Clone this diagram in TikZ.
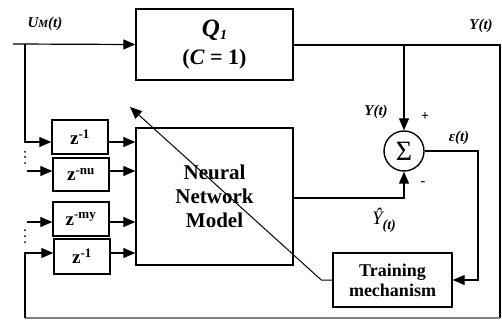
\documentclass[tikz,border=0pt]{standalone}
\usepackage{fontspec}
\setmainfont{Liberation Serif}
\usetikzlibrary{arrows.meta,calc}
\begin{document}
\begin{tikzpicture}[x=1pt,y=-1pt,
  box/.style={draw,line width=1.4pt,inner sep=0pt,align=center,font=\bfseries},
  dbox/.style={box,minimum width=56pt,minimum height=34pt,font=\fontsize{19}{20}\selectfont\bfseries},
  ln/.style={line width=1.2pt},
  arr/.style={ln,-{Triangle[length=12pt,width=10pt]}},
  lab/.style={font=\fontsize{15}{17}\selectfont\bfseries\itshape,inner sep=0pt},
  sgn/.style={font=\fontsize{14}{14}\selectfont\bfseries,inner sep=0pt}]
\useasboundingbox (0,0) rectangle (502,320);
% blocks
\node[box,minimum width=157pt,minimum height=71pt,font=\fontsize{22}{24}\selectfont\bfseries] (Q) at (214.5,44.5)
  {{\fontsize{25}{27}\selectfont\textit{Q}\raisebox{-3pt}{\fontsize{14}{14}\selectfont\textit{1}}}\\[4pt]
   (\textit{C} = 1)};
\node[box,minimum width=157pt,minimum height=137pt,font=\fontsize{21}{24}\selectfont\bfseries] (NN) at (214.5,196.5)
  {Neural\\Network\\Model};
\node[box,minimum width=119pt,minimum height=54pt,font=\fontsize{18}{20}\selectfont\bfseries] (T) at (392.5,280)
  {Training\\mechanism};
\node[dbox] (d1) at (80,137) {z\textsuperscript{\fontsize{13}{13}\selectfont-1}};
\node[dbox,minimum height=33pt] (d2) at (81,174.5) {z\textsuperscript{\fontsize{13}{13}\selectfont-nu}};
\node[dbox] (d3) at (81,219) {z\textsuperscript{\fontsize{13}{13}\selectfont-my}};
\node[dbox,minimum height=35pt] (d4) at (82,256.5) {z\textsuperscript{\fontsize{13}{13}\selectfont-1}};
\node[draw,circle,line width=1.4pt,minimum size=40pt,inner sep=0pt,font=\fontsize{28}{28}\selectfont] (S) at (404,151) {Σ};
% labels
\node[lab] (lu) at (45,24) {U{\fontsize{11}{11}\selectfont M}(t)};
\node[lab] (ly1) at (481,26) {Y(t)};
\node[lab] (ly2) at (376,112) {Y(t)};
\node[sgn] (lp) at (425,117) {+};
\node[sgn] (lm) at (423,184) {-};
\node[lab] (le) at (459,138) {ε(t)};
\node[inner sep=0pt,font=\fontsize{19}{20}\selectfont\itshape] (lyh) at (384,220)
  {Ŷ\raisebox{-5pt}{\fontsize{14}{14}\selectfont\bfseries(\textit{t})}};
% coordinates
\coordinate (in) at (13,44);
\coordinate (j) at (25,44);
\coordinate (y1) at (0,142);
\coordinate (s2) at (27,171);
\coordinate (s3) at (27,222);
\coordinate (y4) at (0,253);
\coordinate (tr) at (500,45);
\coordinate (brc) at (500,318);
\coordinate (blc) at (25,318);
\coordinate (br) at (404,45);
\coordinate (ecol) at (478,0);
\coordinate (yo) at (0,198);
\coordinate (tip) at (130,107);
% connectors
\draw[arr] (in) -- (Q.west);
\draw[arr] (j) |- (d1.west|-y1);
\draw[arr] (d1.east|-y1) -- (NN.west|-y1);
\draw[arr] (s2) -- (d2.west|-s2);
\draw[arr] (d2.east|-s2) -- (NN.west|-s2);
\draw[arr] (s3) -- (d3.west|-s3);
\draw[arr] (d3.east|-s3) -- (NN.west|-s3);
\draw[arr] (d4.east|-y4) -- (NN.west|-y4);
\draw[ln] (Q.east|-tr) -- (tr) -- (brc);
\draw[ln,black!50] (brc) -- (blc);
\draw[arr] (blc) |- (d4.west|-y4);
\draw[arr] (br) -- (S.north);
\draw[arr] (S.east) -| (ecol|-T.east) -- (T.east);
\draw[arr] (NN.east|-yo) -| (S.south);
\draw[arr,line width=1pt] (T.west) -- ++(-11,0) -- (tip);
% dots
\foreach \yy in {152,157,163,230,236,242} \fill (25,\yy) circle (1pt);
\end{tikzpicture}
\end{document}
